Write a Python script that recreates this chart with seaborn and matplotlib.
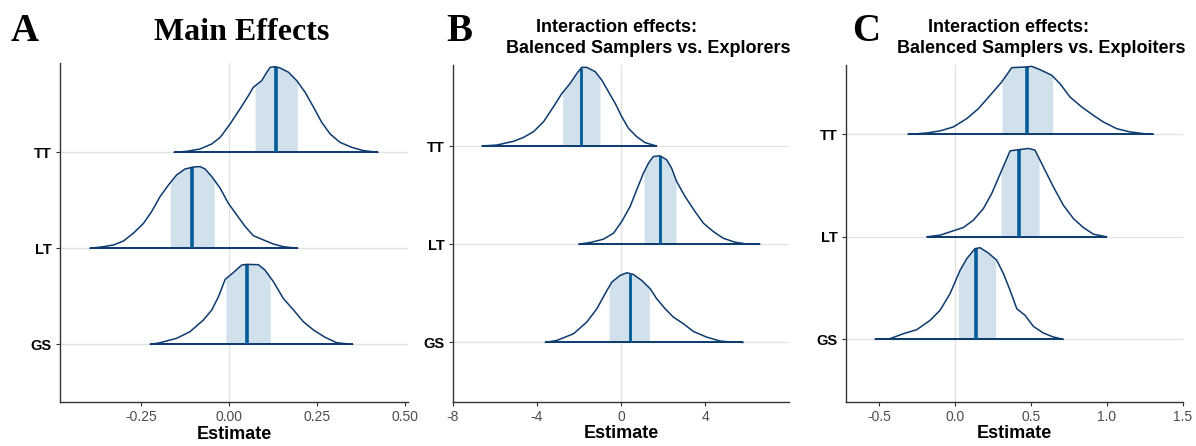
import numpy as np
import pandas as pd
import matplotlib
matplotlib.use("Agg")
import matplotlib.pyplot as plt
import seaborn as sns

# ---------------- data ----------------
params = ["GS", "LT", "TT"]  # bottom to top

# Panel A: Main effects
a_tt_x = [-0.157, -0.121, -0.083, -0.050, -0.026, 0.002, 0.030, 0.054, 0.068, 0.092, 0.106, 0.116, 0.130,
          0.144, 0.168, 0.191, 0.215, 0.239, 0.262, 0.286, 0.314, 0.347, 0.381, 0.422]
a_tt_h = [0, 0.010, 0.035, 0.087, 0.156, 0.295, 0.451, 0.590, 0.677, 0.747, 0.833, 0.885, 0.892,
          0.878, 0.833, 0.747, 0.625, 0.469, 0.313, 0.191, 0.104, 0.052, 0.017, 0]
a_lt_x = [-0.396, -0.358, -0.329, -0.301, -0.273, -0.244, -0.221, -0.197, -0.173, -0.150, -0.126, -0.102,
          -0.083, -0.069, -0.050, -0.026, -0.003, 0.021, 0.045, 0.068, 0.097, 0.125, 0.153, 0.194]
a_lt_h = [0, 0.017, 0.035, 0.076, 0.156, 0.260, 0.382, 0.538, 0.660, 0.764, 0.826, 0.847,
          0.851, 0.826, 0.747, 0.625, 0.469, 0.347, 0.226, 0.132, 0.087, 0.045, 0.017, 0]
a_gs_x = [-0.225, -0.197, -0.150, -0.112, -0.074, -0.050, -0.031, -0.012, 0.011, 0.035, 0.049, 0.082,
          0.101, 0.125, 0.153, 0.182, 0.210, 0.239, 0.272, 0.305, 0.350]
a_gs_h = [0, 0.017, 0.063, 0.132, 0.253, 0.358, 0.497, 0.677, 0.747, 0.826, 0.833, 0.830,
          0.774, 0.653, 0.479, 0.358, 0.236, 0.149, 0.073, 0.017, 0]
a_ci = {"TT": (0.073, 0.132, 0.193), "LT": (-0.168, -0.107, -0.043), "GS": (-0.010, 0.051, 0.116)}

# Panel B: Balanced Samplers vs. Explorers
b_tt_x = [-6.61, -5.90, -5.11, -4.63, -4.16, -3.68, -3.21, -2.81, -2.42, -2.10, -1.87, -1.63, -1.23,
          -0.92, -0.60, -0.28, 0.03, 0.35, 0.74, 1.14, 1.69]
b_tt_h = [0, 0.010, 0.048, 0.088, 0.146, 0.248, 0.401, 0.536, 0.638, 0.740, 0.801, 0.801, 0.757,
          0.672, 0.553, 0.434, 0.299, 0.180, 0.095, 0.034, 0]
b_lt_x = [-2.02, -1.47, -0.84, -0.36, 0.03, 0.43, 0.74, 1.06, 1.30, 1.53, 1.85, 2.17, 2.40, 2.64,
          3.04, 3.51, 3.91, 4.38, 4.85, 5.41, 5.96, 6.59]
b_lt_h = [0, 0.017, 0.051, 0.112, 0.231, 0.384, 0.553, 0.723, 0.825, 0.893, 0.900, 0.859, 0.774, 0.638,
          0.485, 0.333, 0.214, 0.129, 0.061, 0.020, 0.003, 0]
b_gs_x = [-3.60, -3.05, -2.26, -1.63, -1.15, -0.76, -0.44, -0.05, 0.27, 0.58, 0.98, 1.38, 1.69,
          2.09, 2.48, 2.96, 3.43, 4.06, 4.70, 5.17, 5.80]
b_gs_h = [0, 0.020, 0.088, 0.207, 0.343, 0.496, 0.614, 0.682, 0.709, 0.692, 0.631, 0.547, 0.445,
          0.343, 0.258, 0.190, 0.112, 0.054, 0.014, 0.004, 0]
b_ci = {"TT": (-2.78, -1.91, -1.00), "LT": (1.09, 1.85, 2.61), "GS": (-0.57, 0.43, 1.34)}

# Panel C: Balanced Samplers vs. Exploiters
c_tt_x = [-0.310, -0.264, -0.187, -0.099, -0.011, 0.077, 0.154, 0.231, 0.308, 0.374, 0.473, 0.505,
          0.560, 0.637, 0.692, 0.758, 0.835, 0.912, 0.978, 1.066, 1.154, 1.242, 1.308]
c_tt_h = [0, 0.004, 0.013, 0.033, 0.072, 0.153, 0.250, 0.380, 0.511, 0.650, 0.657, 0.663,
          0.631, 0.576, 0.494, 0.364, 0.267, 0.185, 0.120, 0.055, 0.023, 0.007, 0]
c_lt_x = [-0.187, -0.099, -0.011, 0.055, 0.121, 0.187, 0.242, 0.308, 0.363, 0.429, 0.484, 0.527,
          0.582, 0.648, 0.714, 0.780, 0.846, 0.912, 1.000]
c_lt_h = [0, 0.016, 0.059, 0.091, 0.163, 0.276, 0.423, 0.650, 0.839, 0.852, 0.862, 0.846,
          0.683, 0.488, 0.309, 0.179, 0.091, 0.026, 0]
c_gs_x = [-0.527, -0.429, -0.341, -0.253, -0.165, -0.099, -0.033, 0.033, 0.077, 0.132, 0.165, 0.220,
          0.275, 0.319, 0.363, 0.407, 0.462, 0.516, 0.582, 0.648, 0.714]
c_gs_h = [0, 0.007, 0.055, 0.094, 0.185, 0.283, 0.446, 0.673, 0.787, 0.885, 0.894, 0.842,
          0.771, 0.641, 0.478, 0.299, 0.234, 0.127, 0.062, 0.023, 0]
c_ci = {"TT": (0.310, 0.475, 0.644), "LT": (0.303, 0.424, 0.554), "GS": (0.022, 0.136, 0.268)}

a_ticks = [-0.25, 0.0, 0.25, 0.50]
a_ticklabels = ["-0.25", "0.00", "0.25", "0.50"]
b_ticks = [-8, -4, 0, 4]
b_ticklabels = ["-8", "-4", "0", "4"]
c_ticks = [-0.5, 0.0, 0.5, 1.0, 1.5]
c_ticklabels = ["-0.5", "0.0", "0.5", "1.0", "1.5"]

# ---------------- style ----------------
sns.set_theme(style="white")
plt.rcParams["font.family"] = ["Liberation Sans", "DejaVu Sans"]

OUT = "#0b3a6e"
MED = "#005b96"
SHADE = "#d1e1ec"
GRID = "#e3e3e3"
AXC = "#333333"

W, H = 1196, 446
fig = plt.figure(figsize=(W / 100, H / 100), dpi=100)


def px_axes(l, t, r, b):
    return fig.add_axes([l / W, 1 - b / H, (r - l) / W, (b - t) / H])


def draw(ax, ridges, ci, xlim, ylim, ticks, ticklabels, medlw):
    ax.set_xlim(*xlim)
    ax.set_ylim(*ylim)
    ax.axvline(0, color=GRID, lw=1.0, zorder=0)
    for i, p in enumerate(params):
        ax.axhline(i + 1, color=GRID, lw=1.0, zorder=0)
    for i, p in enumerate(params):
        xs, hs = ridges[p]
        xs = np.asarray(xs, float)
        hs = np.asarray(hs, float)
        y0 = i + 1
        lo, med, hi = ci[p]
        gx = np.linspace(lo, hi, 120)
        gy = np.interp(gx, xs, hs)
        ax.fill_between(gx, y0, y0 + gy, color=SHADE, lw=0, zorder=1)
        ax.plot([xs[0], xs[-1]], [y0, y0], color=OUT, lw=1.4, zorder=2, solid_capstyle="butt")
        ax.plot([med, med], [y0, y0 + np.interp(med, xs, hs)], color=MED, lw=medlw, zorder=3,
                solid_capstyle="butt")
        df = pd.DataFrame({"x": xs, "y": y0 + hs})
        sns.lineplot(data=df, x="x", y="y", ax=ax, color=OUT, lw=1.1, sort=False,
                     estimator=None, zorder=4)
    ax.set_xticks(ticks)
    ax.set_xticklabels(ticklabels, fontsize=10, color="#4d4d4d")
    ax.set_yticks([1, 2, 3])
    ax.set_yticklabels(params, fontsize=10.5, fontweight="bold", color="black")
    ax.set_xlabel("Estimate", fontsize=13, fontweight="bold", color="black", labelpad=1)
    ax.set_ylabel("")
    for s in ["top", "right"]:
        ax.spines[s].set_visible(False)
    for s in ["left", "bottom"]:
        ax.spines[s].set_color(AXC)
        ax.spines[s].set_linewidth(1.0)
    ax.tick_params(axis="both", length=3, width=0.8, color=AXC, pad=3, direction="out",
                   bottom=True, left=True)
    ax.grid(False)


axA = px_axes(60, 62.7, 408.3, 402)
draw(axA, {"TT": (a_tt_x, a_tt_h), "LT": (a_lt_x, a_lt_h), "GS": (a_gs_x, a_gs_h)}, a_ci,
     (-0.481, 0.508), (0.40, 3.933), a_ticks, a_ticklabels, 2.6)

axB = px_axes(452.7, 65, 789.3, 401.7)
draw(axB, {"TT": (b_tt_x, b_tt_h), "LT": (b_lt_x, b_lt_h), "GS": (b_gs_x, b_gs_h)}, b_ci,
     (-7.98, 7.99), (0.396, 3.825), b_ticks, b_ticklabels, 2.0)

axC = px_axes(846, 65, 1182.7, 401.7)
draw(axC, {"TT": (c_tt_x, c_tt_h), "LT": (c_lt_x, c_lt_h), "GS": (c_gs_x, c_gs_h)}, c_ci,
     (-0.719, 1.501), (0.392, 3.676), c_ticks, c_ticklabels, 2.6)

serif = ["Liberation Serif", "DejaVu Serif"]


def ftext(x, y, s, **kw):
    fig.text(x / W, 1 - y / H, s, va="baseline", ha="left", **kw)


ftext(11, 41, "A", fontsize=28, fontweight="bold", family=serif, color="black")
ftext(154, 40, "Main Effects", fontsize=23, fontweight="bold", family=serif, color="black")
ftext(446, 41, "B", fontsize=28, fontweight="bold", family=serif, color="black")
ftext(536, 32, "Interaction effects:", fontsize=13, fontweight="bold", color="black")
ftext(506, 53, "Balenced Samplers vs. Explorers", fontsize=13, fontweight="bold", color="black")
ftext(852, 41, "C", fontsize=28, fontweight="bold", family=serif, color="black")
ftext(928, 32, "Interaction effects:", fontsize=13, fontweight="bold", color="black")
ftext(897, 53, "Balenced Samplers vs. Exploiters", fontsize=13, fontweight="bold", color="black")

fig.savefig("out.png", dpi=100)
